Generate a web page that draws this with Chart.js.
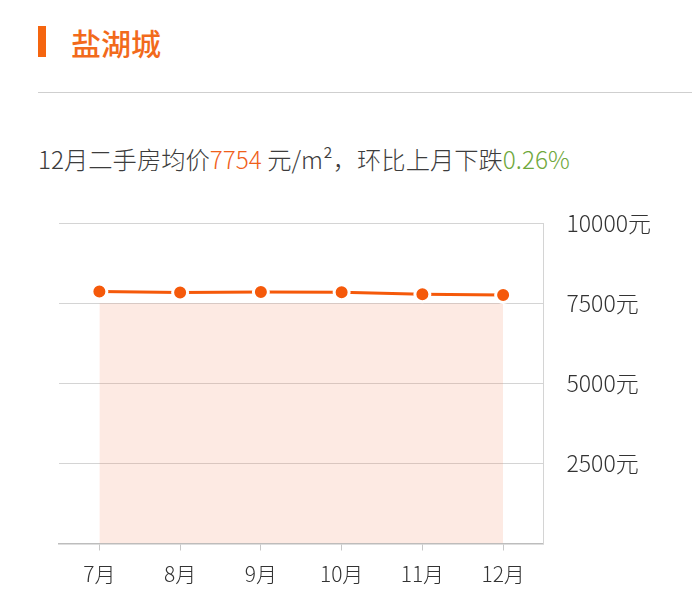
<!DOCTYPE html>
<html>
<head>
<meta charset="utf-8">
<script src="https://cdn.jsdelivr.net/npm/chart.js@4/dist/chart.umd.min.js"></script>
<style>
  html, body { margin: 0; padding: 0; background: #fff; }
  body { width: 692px; height: 608px; position: relative; overflow: hidden;
         font-family: "Noto Sans CJK SC", "Noto Sans", sans-serif; }
  .bar { position: absolute; left: 38px; top: 26px; width: 8px; height: 31px; background: #f5650f; }
  .title { position: absolute; left: 71px; top: 21px; font-size: 30px; line-height: 42px;
           color: #f26a1b; font-weight: 500; }
  .rule { position: absolute; left: 38px; top: 92px; width: 654px; height: 1px; background: #cfcfcf; }
  .sub { position: absolute; left: 38px; top: 142px; font-size: 24.3px; line-height: 34px; color: #3c3c3c;
         font-weight: 300; white-space: nowrap; }
  .sub .o { color: #f0601a; }
  .sub .g { color: #6fa83c; }
  #wrap { position: absolute; left: 0; top: 0; width: 692px; height: 608px; }
</style>
</head>
<body>
<div class="bar"></div>
<div class="title">盐湖城</div>
<div class="rule"></div>
<div class="sub">12月二手房均价<span class="o">7754</span> 元/m²，环比上月下跌<span class="g">0.26%</span></div>
<div id="wrap"><canvas id="chart"></canvas></div>
<script>
// months and average second-hand price (元/m²)
const months = ['7月', '8月', '9月', '10月', '11月', '12月'];
const prices = [7862, 7830, 7850, 7840, 7774, 7754];
// top of the pale band behind the line
const bandValues = [7500, 7500, 7500, 7500, 7500, 7500];
const yTicks = [0, 2500, 5000, 7500, 10000];

const ctx = document.getElementById('chart').getContext('2d');
new Chart(ctx, {
  type: 'line',
  data: {
    labels: months,
    datasets: [
      {
        label: '均价',
        data: prices,
        borderColor: '#f5590a',
        borderWidth: 3,
        pointRadius: 7.5,
        pointBorderWidth: 3,
        pointBackgroundColor: '#f5590a',
        pointBorderColor: '#ffffff',
        fill: false,
        tension: 0,
        order: 1
      },
      {
        label: 'band',
        data: bandValues,
        borderWidth: 0,
        pointRadius: 0,
        backgroundColor: 'rgba(245, 140, 100, 0.18)',
        fill: 'origin',
        order: 2
      }
    ]
  },
  options: {
    responsive: true,
    maintainAspectRatio: false,
    animation: false,
    layout: { padding: { left: 59, top: 223, right: 0, bottom: 0 } },
    plugins: {
      legend: { display: false },
      tooltip: { enabled: false }
    },
    scales: {
      x: {
        offset: true,
        grid: {
          offset: false,
          drawOnChartArea: false,
          drawTicks: true,
          tickLength: 7,
          color: '#c8c8c8'
        },
        border: { color: '#bdbdbd', width: 1.5 },
        ticks: {
          color: '#333',
          padding: 11,
          font: { family: '"Noto Sans CJK SC", sans-serif', size: 21, weight: 300 }
        },
        afterFit: scale => { scale.height = 64.5; }
      },
      y: {
        position: 'right',
        min: 0,
        max: 10000,
        afterBuildTicks: scale => { scale.ticks = yTicks.map(v => ({ value: v })); },
        grid: {
          drawTicks: false,
          color: ctx => ctx.tick && ctx.tick.value === 0 ? 'rgba(0,0,0,0)' : '#d4d4d4',
          lineWidth: 1
        },
        border: { display: true, color: '#d4d4d4', width: 1 },
        ticks: {
          color: '#333',
          padding: 23,
          font: { family: '"Noto Sans CJK SC", sans-serif', size: 23, weight: 300 },
          callback: v => v === 0 ? '' : v + '元'
        },
        afterFit: scale => { scale.width = 148.5; }
      }
    }
  }
});
</script>
</body>
</html>
